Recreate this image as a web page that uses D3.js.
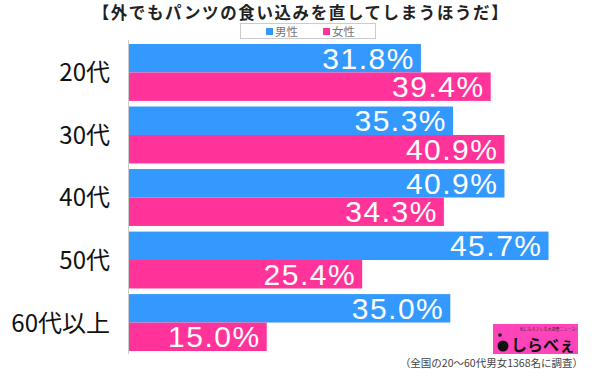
<!DOCTYPE html>
<html><head><meta charset="utf-8">
<script src="https://cdn.jsdelivr.net/npm/d3@7"></script>
<style>body{margin:0;background:#fff;}svg{display:block;font-family:"Noto Sans CJK JP","Liberation Sans",sans-serif;}</style>
</head><body>
<svg id="c" width="600" height="369"></svg>
<script>
const title = "【外でもパンツの食い込みを直してしまうほうだ】";
const categories = ["20代","30代","40代","50代","60代以上"];
const seriesNames = ["男性","女性"];
const male = [31.8, 35.3, 40.9, 45.7, 35.0];
const female = [39.4, 40.9, 34.3, 25.4, 15.0];
const colors = ["#3399ff","#ff3399"];
const note = "（全国の20～60代男女1368名に調査）";

const svg = d3.select("#c");
const x = d3.scaleLinear().domain([0,50]).range([129,588]);
const y = d3.scaleBand().domain(categories).range([44,351]).paddingInner(0.09).paddingOuter(0);
const y1 = d3.scaleBand().domain(seriesNames).range([0,y.bandwidth()]);

svg.append("text").attr("x",301).attr("y",18.5).attr("text-anchor","middle")
  .attr("font-size",16.5).attr("font-weight","bold").attr("fill","#222")
  .attr("letter-spacing",1.6).text(title);

// legend
const lg = svg.append("g");
lg.append("rect").attr("x",240.5).attr("y",23.5).attr("width",135).attr("height",15)
  .attr("fill","#fff").attr("stroke","#ccc");
seriesNames.forEach((s,i)=>{
  const lx = 266 + i*57;
  lg.append("rect").attr("x",lx).attr("y",28).attr("width",7).attr("height",7).attr("fill",colors[i]);
  lg.append("text").attr("x",lx+9).attr("y",35.5).attr("font-size",11.5).attr("fill","#777").text(s);
});

// axis line
svg.append("line").attr("x1",128.5).attr("x2",128.5).attr("y1",40).attr("y2",354)
  .attr("stroke","#ccc").attr("stroke-width",1);

const data = categories.map((c,i)=>({c, vals:[male[i],female[i]]}));
const g = svg.selectAll("g.grp").data(data).join("g").attr("class","grp")
  .attr("transform",d=>`translate(0,${y(d.c)})`);
g.selectAll("rect").data(d=>d.vals.map((v,i)=>({s:seriesNames[i],v,i}))).join("rect")
  .attr("x",x(0)).attr("y",d=>y1(d.s)).attr("height",y1.bandwidth())
  .attr("width",d=>x(d.v)-x(0)).attr("fill",d=>colors[d.i]);
g.selectAll("text.val").data(d=>d.vals.map((v,i)=>({s:seriesNames[i],v,i}))).join("text")
  .attr("class","val")
  .attr("x",d=>x(d.v)-6).attr("y",d=>y1(d.s)+y1.bandwidth()/2+10.5)
  .attr("text-anchor","end").attr("fill","#fff").attr("font-size",30)
  .attr("font-family","'Liberation Sans',Arial,sans-serif").attr("letter-spacing",1.5)
  .text(d=>d.v.toFixed(1)+"%");
g.append("text").attr("x",110).attr("y",y.bandwidth()/2+9).attr("text-anchor","end")
  .attr("font-size",24).attr("fill","#111").text(d=>d.c);

// logo
const logo = svg.append("g");
logo.append("rect").attr("x",493).attr("y",324).attr("width",85).attr("height",30).attr("fill","#ff44bb");
logo.append("text").attr("x",548).attr("y",331).attr("text-anchor","middle").attr("font-size",4).attr("fill","#333").text("気になるアレを大調査ニュース!");
logo.append("circle").attr("cx",503).attr("cy",346).attr("r",5.5).attr("fill","#111");
logo.append("circle").attr("cx",500).attr("cy",335).attr("r",1.8).attr("fill","#111");
logo.append("text").attr("x",511).attr("y",351).attr("font-size",16).attr("font-weight","bold").attr("fill","#111").text("しらべぇ");

svg.append("text").attr("x",583).attr("y",367).attr("text-anchor","end").attr("font-size",10.5)
  .attr("fill","#444").text(note);
</script>
</body></html>
